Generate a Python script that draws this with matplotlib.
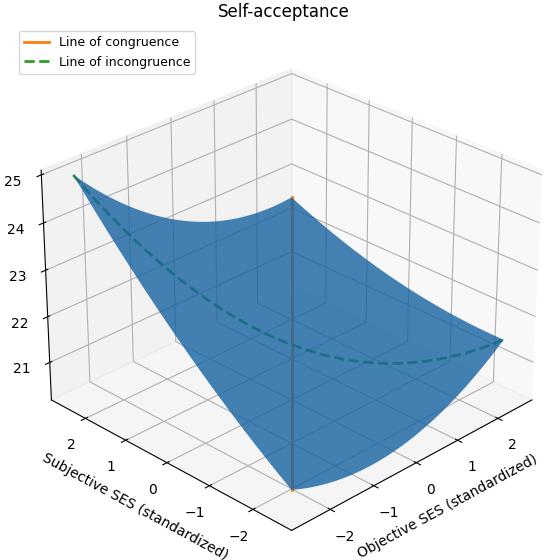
import numpy as np
import matplotlib
matplotlib.use("Agg")
import matplotlib.pyplot as plt
from mpl_toolkits.mplot3d.art3d import Poly3DCollection

# response surface coefficients: z = b0 + b1*x + b2*y + b3*x^2 + b4*x*y + b5*y^2
coef_names = ["b0", "b1", "b2", "b3", "b4", "b5"]
coef_values = [21.39, -0.1615, 0.5385, 0.12, -0.1324, 0.045]
ses_range = [-2.5, 2.5]
tick_vals = [-2, -1, 0, 1, 2]
z_ticks = [21, 22, 23, 24, 25]

b0, b1, b2, b3, b4, b5 = coef_values


def surface(x, y):
    return b0 + b1 * x + b2 * y + b3 * x ** 2 + b4 * x * y + b5 * y ** 2


grid = np.linspace(ses_range[0], ses_range[1], 60)
X, Y = np.meshgrid(grid, grid)
Z = surface(X, Y)

fig = plt.figure(figsize=(5.5, 5.6), dpi=100)
ax = fig.add_axes([0.027, -0.0163, 0.98, 0.98], projection="3d")
ax.computed_zorder = False

# line of congruence x = y, line of incongruence x = -y (they sit under the surface)
ax.plot(grid, grid, surface(grid, grid), color="C1", lw=2, zorder=1,
        label="Line of congruence")
ax.plot(grid, -grid, surface(grid, -grid), color="C2", lw=2, ls="--", zorder=1,
        label="Line of incongruence")

# surface drawn as one patch along its outline, so no facet seams show
lo, hi = ses_range
edge_x = np.concatenate([grid, np.full_like(grid, hi), grid[::-1], np.full_like(grid, lo)])
edge_y = np.concatenate([np.full_like(grid, lo), grid, np.full_like(grid, hi), grid[::-1]])
outline = np.column_stack([edge_x, edge_y, surface(edge_x, edge_y)])
patch = Poly3DCollection([outline], facecolor=(0.09, 0.39, 0.63), edgecolor="none",
                         alpha=0.8, zorder=2)
ax.add_collection3d(patch)
ax.auto_scale_xyz(X, Y, Z)

ax.set_xticks(tick_vals)
ax.set_yticks(tick_vals)
ax.set_zticks(z_ticks)
ax.set_xlabel("Objective SES (standardized)")
ax.set_ylabel("Subjective SES (standardized)")
ax.view_init(elev=28, azim=-135)
fig.text(0.516, 0.979, "Self-acceptance", ha="center", va="center", fontsize=12)
fig.legend(loc="upper left", bbox_to_anchor=(0.023, 0.955), fontsize=9)

plt.savefig("out.png", dpi=100)
